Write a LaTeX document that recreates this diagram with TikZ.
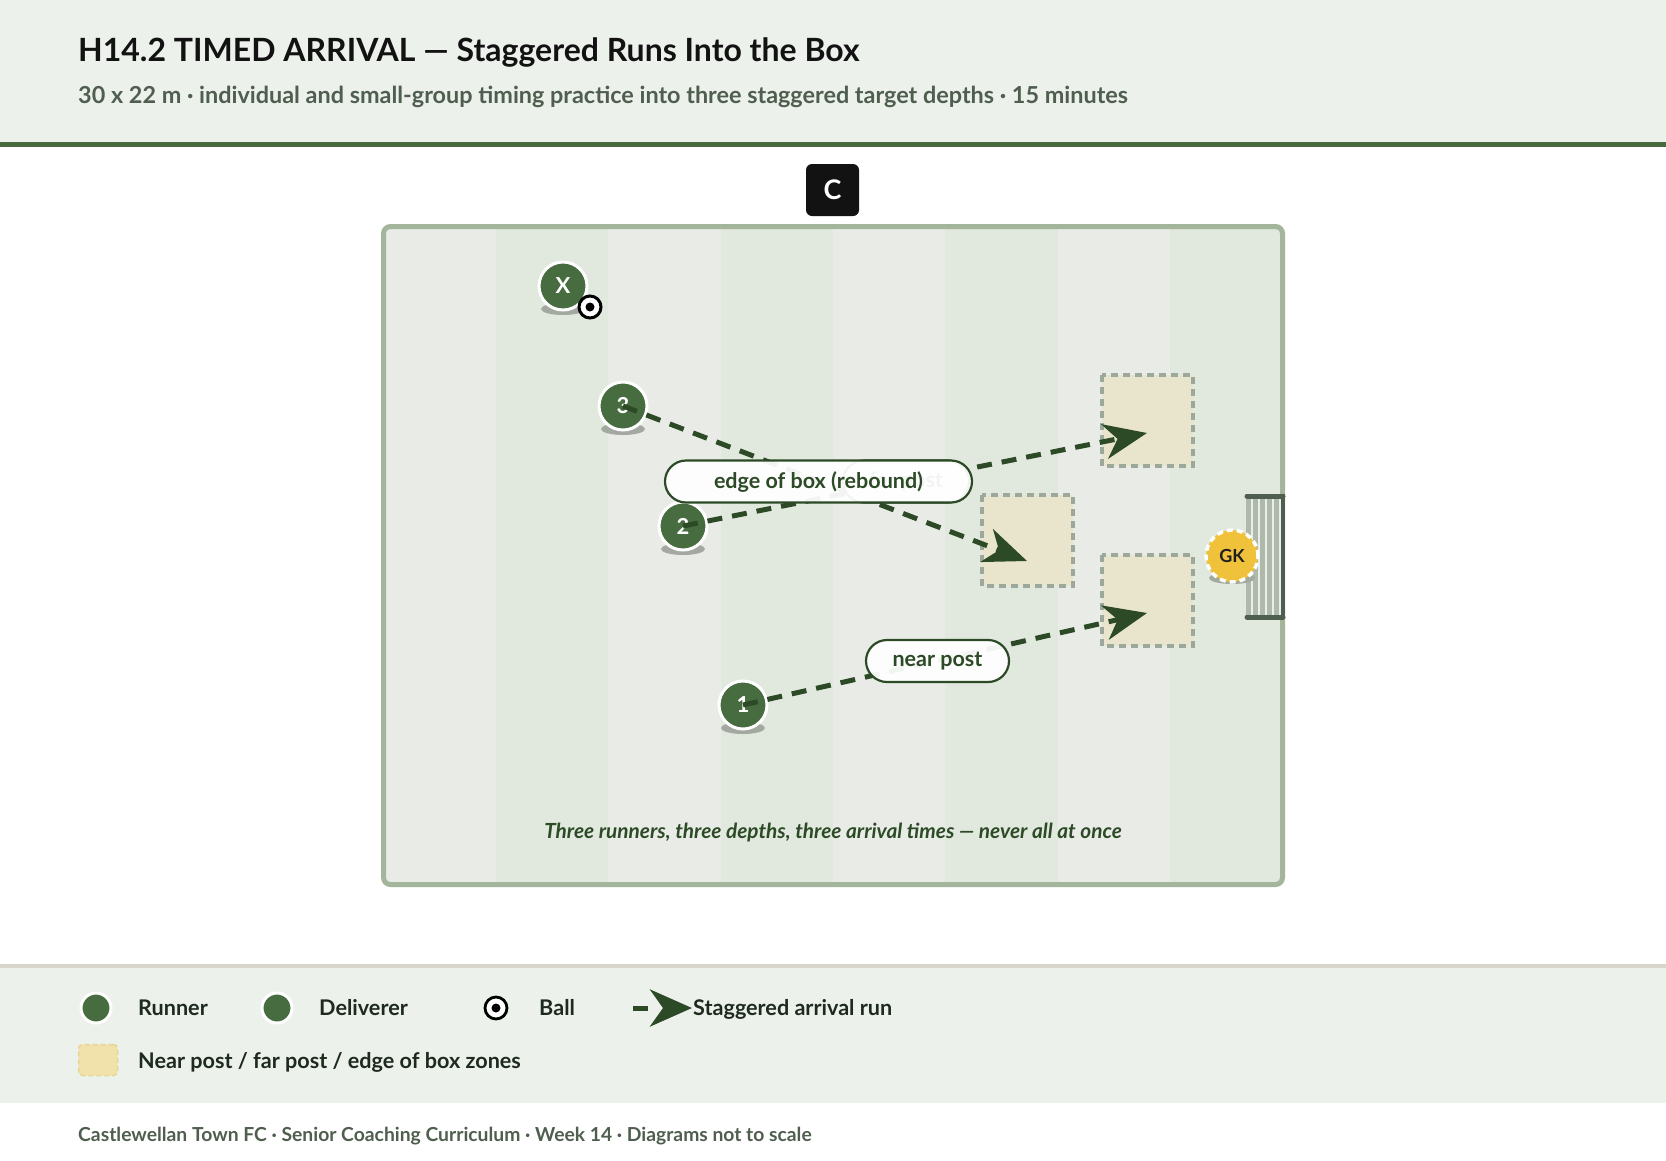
\documentclass[tikz,border=0pt]{standalone}
\usepackage{fontspec}
\setmainfont{Lato}
\usetikzlibrary{arrows.meta}
\definecolor{headbg}{HTML}{EDF1EC}
\definecolor{headrule}{HTML}{476B3E}
\definecolor{subgray}{HTML}{4F5E4E}
\definecolor{pitchlight}{HTML}{E9ECE6}
\definecolor{pitchdark}{HTML}{E1E8DE}
\definecolor{pitchborder}{HTML}{A3B69C}
\definecolor{pgreen}{HTML}{476C3F}
\definecolor{rungreen}{HTML}{2D4A27}
\definecolor{zonefill}{HTML}{E9E5CC}
\definecolor{zoneedge}{HTML}{9CA89B}
\definecolor{netgray}{HTML}{AEB9AB}
\definecolor{goaldark}{HTML}{4F5F4F}
\definecolor{gkyellow}{HTML}{F0C23C}
\definecolor{shadowc}{HTML}{A3A8A0}
\definecolor{sepline}{HTML}{D8D5CB}
\definecolor{legtext}{HTML}{1E2A1E}
\definecolor{swatchfill}{HTML}{F1E2AC}
\definecolor{swatchedge}{HTML}{E8D595}
\begin{document}
\begin{tikzpicture}[x=1pt,y=-1pt,
  player/.style={circle, fill=pgreen, draw=white, line width=3pt, minimum size=48pt, inner sep=0pt, text=white, font=\bfseries\fontsize{22}{22}\selectfont},
  legplayer/.style={circle, fill=pgreen, draw=white, line width=3pt, minimum size=30pt, inner sep=0pt},
  ballnode/.style={circle, fill=white, draw=black, line width=3pt, minimum size=22pt, inner sep=0pt},
  zone/.style={fill=zonefill, draw=zoneedge, line width=3.5pt, dash pattern=on 7pt off 5pt},
  run/.style={draw=rungreen, line width=5pt, dash pattern=on 15pt off 10pt, -{Stealth[length=43pt, width=35pt, inset=13pt]}},
  pill/.style={rectangle, rounded corners=21pt, draw=rungreen, line width=2.2pt, fill=white, fill opacity=0.94, text opacity=1, text=rungreen, minimum height=42pt, inner sep=0pt, font=\bfseries\fontsize{21.5}{22}\selectfont},
  legtxt/.style={anchor=base west, inner sep=0pt, text=legtext, font=\bfseries\fontsize{21.6}{25}\selectfont}
]
\useasboundingbox (0,0) rectangle (1666,1160);
\fill[white] (0,0) rectangle (1666,1160);
% header
\fill[headbg] (0,0) rectangle (1666,142);
\fill[headrule] (0,142) rectangle (1666,147);
\node[anchor=base west, inner sep=0pt, text=black!93, font=\bfseries\fontsize{32}{38}\selectfont] (title) at (78,61) {H14.2 TIMED ARRIVAL — Staggered Runs Into the Box};
\node[anchor=base west, inner sep=0pt, text=subgray, font=\bfseries\fontsize{23.4}{27}\selectfont] (subtitle) at (78,103) {30 x 22 m · individual and small-group timing practice into three staggered target depths · 15 minutes};
% coach
\node[rectangle, rounded corners=6pt, fill=black!93, minimum width=53pt, minimum height=52pt, inner sep=0pt, text=white, font=\bfseries\fontsize{27}{27}\selectfont] (coach) at (832.5,190) {C};
% pitch
\begin{scope}
\clip[rounded corners=7pt] (383.5,226.5) rectangle (1282.5,884.5);
\fill[pitchlight] (383.5,226.5) rectangle (1282.5,884.5);
\foreach \i in {1,3,5,7} \fill[pitchdark] (383.5+112.375*\i,226.5) rectangle ++(112.375,658);
\end{scope}
\draw[pitchborder, line width=5pt, rounded corners=7pt] (383.5,226.5) rectangle (1282.5,884.5);
% zones
\draw[zone] (1102,375) rectangle (1193,466);
\draw[zone] (982,495) rectangle (1073,586);
\draw[zone] (1102,555) rectangle (1193,646);
% goal
\fill[netgray] (1246,496) rectangle (1284,617);
\foreach \gx in {1252,1259,...,1280} \draw[white!75!netgray, line width=1.3pt] (\gx,496) -- (\gx,617);
\draw[goaldark, line width=5pt, line cap=round] (1247,496) -- (1283,496);
\draw[goaldark, line width=5pt, line cap=round] (1247,617) -- (1283,617);
\draw[goaldark, line width=4pt] (1283,494) -- (1283,619);
% shadows
\foreach \sx/\sy in {563/286,623/406,683/526,743/705} \fill[shadowc] (\sx,\sy+23) ellipse [x radius=22, y radius=6];
\fill[shadowc] (1232,578) ellipse [x radius=23, y radius=6];
% players
\node[player] (px) at (563,286) {X};
\node[ballnode] (ball) at (590,307) {};
\fill[black] (ball.center) circle (4.5);
\node[player] (p3) at (623,406) {3};
\node[player] (p2) at (683,526) {2};
\node[player] (p1) at (743,705) {1};
\node[circle, fill=gkyellow, draw=white, line width=3.5pt, dash pattern=on 6pt off 4pt, minimum size=52pt, inner sep=0pt, text=black!88, font=\bfseries\fontsize{18}{18}\selectfont] (gk) at (1232,556) {GK};
% run targets
\coordinate (t3) at (1027,561);
\coordinate (t2) at (1147,433);
\coordinate (t1) at (1147,613);
\draw[run] (p3.center) -- (t3);
\draw[run] (p2.center) -- (t2);
\draw[run] (p1.center) -- (t1);
% labels
\node[pill, minimum width=126pt] (farpost) at (906,481.5) {far post};
\node[pill, minimum width=307pt] (edgelbl) at (818.5,481.5) {edge of box (rebound)};
\node[pill, minimum width=143pt] (nearlbl) at (937.5,661) {near post};
\node[anchor=base, inner sep=0pt, text=rungreen, font=\bfseries\itshape\fontsize{20.8}{24}\selectfont] (caption) at (833,838) {Three runners, three depths, three arrival times — never all at once};
% legend
\fill[sepline] (0,964) rectangle (1666,968);
\fill[headbg] (0,968) rectangle (1666,1103);
\node[legplayer] (lrun) at (96,1008) {};
\node[legtxt] (lruntxt) at (138,1015) {Runner};
\node[legplayer] (ldel) at (277,1008) {};
\node[legtxt] (ldeltxt) at (319,1015) {Deliverer};
\node[ballnode, minimum size=22pt, line width=2.8pt] (lball) at (496,1008) {};
\fill[black] (lball.center) circle (4.5);
\node[legtxt] (lballtxt) at (539,1015) {Ball};
\coordinate (larrs) at (633,1008);
\coordinate (larre) at (692,1008);
\draw[draw=rungreen, line width=5pt, dash pattern=on 15pt off 100pt, -{Stealth[length=42pt, width=37pt, inset=13pt]}] (larrs) -- (larre);
\node[legtxt] (larrtxt) at (693,1015) {Staggered arrival run};
\node[rectangle, rounded corners=4pt, fill=swatchfill, draw=swatchedge, line width=1.5pt, dash pattern=on 5pt off 3pt, minimum width=39pt, minimum height=31pt, inner sep=0pt] (lzone) at (98,1060) {};
\node[legtxt] (lzonetxt) at (138,1068) {Near post / far post / edge of box zones};
% footer
\node[anchor=base west, inner sep=0pt, text=subgray, font=\bfseries\fontsize{19.3}{22}\selectfont] (footer) at (78,1141) {Castlewellan Town FC · Senior Coaching Curriculum · Week 14 · Diagrams not to scale};
\end{tikzpicture}
\end{document}
